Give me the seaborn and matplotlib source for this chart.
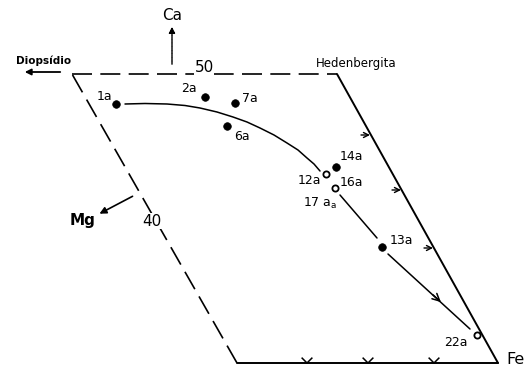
import numpy as np
import pandas as pd
import seaborn as sns
import matplotlib.pyplot as plt
from matplotlib.path import Path

# sample points (x to the right, y downwards)
samples = ["1a", "2a", "7a", "6a", "12a", "14a", "16a", "13a", "22a"]
sample_x = [116, 205, 235, 227, 326, 336, 335, 382, 477]
sample_y = [104, 97, 103, 126, 174, 167, 188, 247, 335]
sample_open = [False, False, False, False, True, False, True, False, True]

# where each label sits
label_x = [104, 189, 250, 242, 309, 351, 351, 401, 456]
label_y = [96, 89, 98, 137, 180, 157, 182, 241, 342]

# trend curve (three pieces)
trend1_x = [125, 145, 167, 185, 200, 217, 233, 247, 260, 274, 287, 298, 307, 314, 320]
trend1_y = [104, 103.5, 104, 105.5, 108, 112, 117, 122, 128, 135, 143, 150, 158, 164, 171]
trend2_x = [340, 377]
trend2_y = [195, 238]
trend3_x = [388, 470]
trend3_y = [254, 329]

# quadrilateral corners: Di, Hd, Fe, Mg side
quad_x = [72, 337, 498, 237]
quad_y = [74, 74, 363, 363]

# tick marks on the edges
right_ticks_x = [370, 401, 433]
right_ticks_y = [135, 190, 248]
bottom_ticks_x = [307, 368, 434]
bottom_ticks_y = [363, 363, 363]

df = pd.DataFrame({"sample": samples, "x": sample_x, "y": sample_y, "open": sample_open})

sns.set_style("white")
plt.rcParams['font.family'] = ['DejaVu Sans']
plt.rcParams['text.color'] = 'black'

fig = plt.figure(figsize=(5.31, 3.70), dpi=100)
ax = fig.add_axes([0, 0, 1, 1])

# frame: dashed top and left, solid right and bottom
dash = (0, (12, 5))
sns.lineplot(x=quad_x[0:2], y=quad_y[0:2], ax=ax, color="black", lw=1.2, linestyle=dash)
sns.lineplot(x=[quad_x[3], quad_x[0]], y=[quad_y[3], quad_y[0]], ax=ax, color="black",
             lw=1.2, linestyle=dash, sort=False, estimator=None)
sns.lineplot(x=quad_x[1:3], y=quad_y[1:3], ax=ax, color="black", lw=1.4,
             sort=False, estimator=None)
sns.lineplot(x=quad_x[2:4], y=quad_y[2:4], ax=ax, color="black", lw=1.4,
             sort=False, estimator=None)

# trend line
for tx, ty in [(trend1_x, trend1_y), (trend2_x, trend2_y), (trend3_x, trend3_y)]:
    sns.lineplot(x=tx, y=ty, ax=ax, color="black", lw=1.1, sort=False, estimator=None)
ax.annotate("", xy=(443, 304), xytext=(431, 293),
            arrowprops=dict(arrowstyle="->", color="black", lw=1.1, mutation_scale=13))

# points
sns.scatterplot(data=df[~df["open"]], x="x", y="y", ax=ax, color="black", s=30,
                edgecolor="black", linewidth=0.5, zorder=3)
sns.scatterplot(data=df[df["open"]], x="x", y="y", ax=ax, facecolor="white", s=20,
                edgecolor="black", linewidth=1.3, zorder=3)

for name, lx, ly in zip(samples, label_x, label_y):
    ax.text(lx, ly, name, fontsize=9, ha="center", va="center")
ax.text(320, 203, r"17 a$_\mathregular{a}$", fontsize=9, ha="center", va="center")

# edge ticks
for rx, ry in zip(right_ticks_x, right_ticks_y):
    ax.annotate("", xy=(rx, ry), xytext=(rx - 9, ry),
                arrowprops=dict(arrowstyle="->", color="black", lw=1.0, mutation_scale=9,
                                shrinkA=0, shrinkB=0))
chevron = Path([(-1, 1), (0, 0), (1, 1)], [Path.MOVETO, Path.LINETO, Path.LINETO])
ax.scatter(bottom_ticks_x, bottom_ticks_y, marker=chevron, s=60, facecolors="none",
           edgecolors="black", linewidths=1.1)

# axis labels and arrows
ax.text(172, 15, "Ca", fontsize=11, ha="center", va="center")
ax.annotate("", xy=(172, 24), xytext=(172, 67),
            arrowprops=dict(arrowstyle="-|>", color="black", lw=1.0, linestyle=(0, (2, 0.6)),
                            mutation_scale=9))
ax.text(44, 61, "Diopsídio", fontsize=7.5, fontweight="bold", ha="center", va="center")
ax.annotate("", xy=(22, 72), xytext=(63, 72),
            arrowprops=dict(arrowstyle="-|>", color="black", lw=1.3, mutation_scale=9))
ax.text(356, 63, "Hedenbergita", fontsize=8.5, ha="center", va="center")
ax.text(83, 221, "Mg", fontsize=11, fontweight="bold", ha="center", va="center")
ax.annotate("", xy=(97, 215), xytext=(135, 195),
            arrowprops=dict(arrowstyle="-|>", color="black", lw=1.2, mutation_scale=10))
ax.text(516, 359, "Fe", fontsize=11.5, ha="center", va="center")
ax.text(204, 68, "50", fontsize=11, ha="center", va="center",
        bbox=dict(facecolor="white", edgecolor="none", pad=0.5))
ax.text(152, 221, "40", fontsize=11, ha="center", va="center",
        bbox=dict(facecolor="white", edgecolor="none", pad=0.5))

ax.set_xlim(0, 531)
ax.set_ylim(370, 0)
ax.axis("off")

fig.savefig("out.png", dpi=100)
